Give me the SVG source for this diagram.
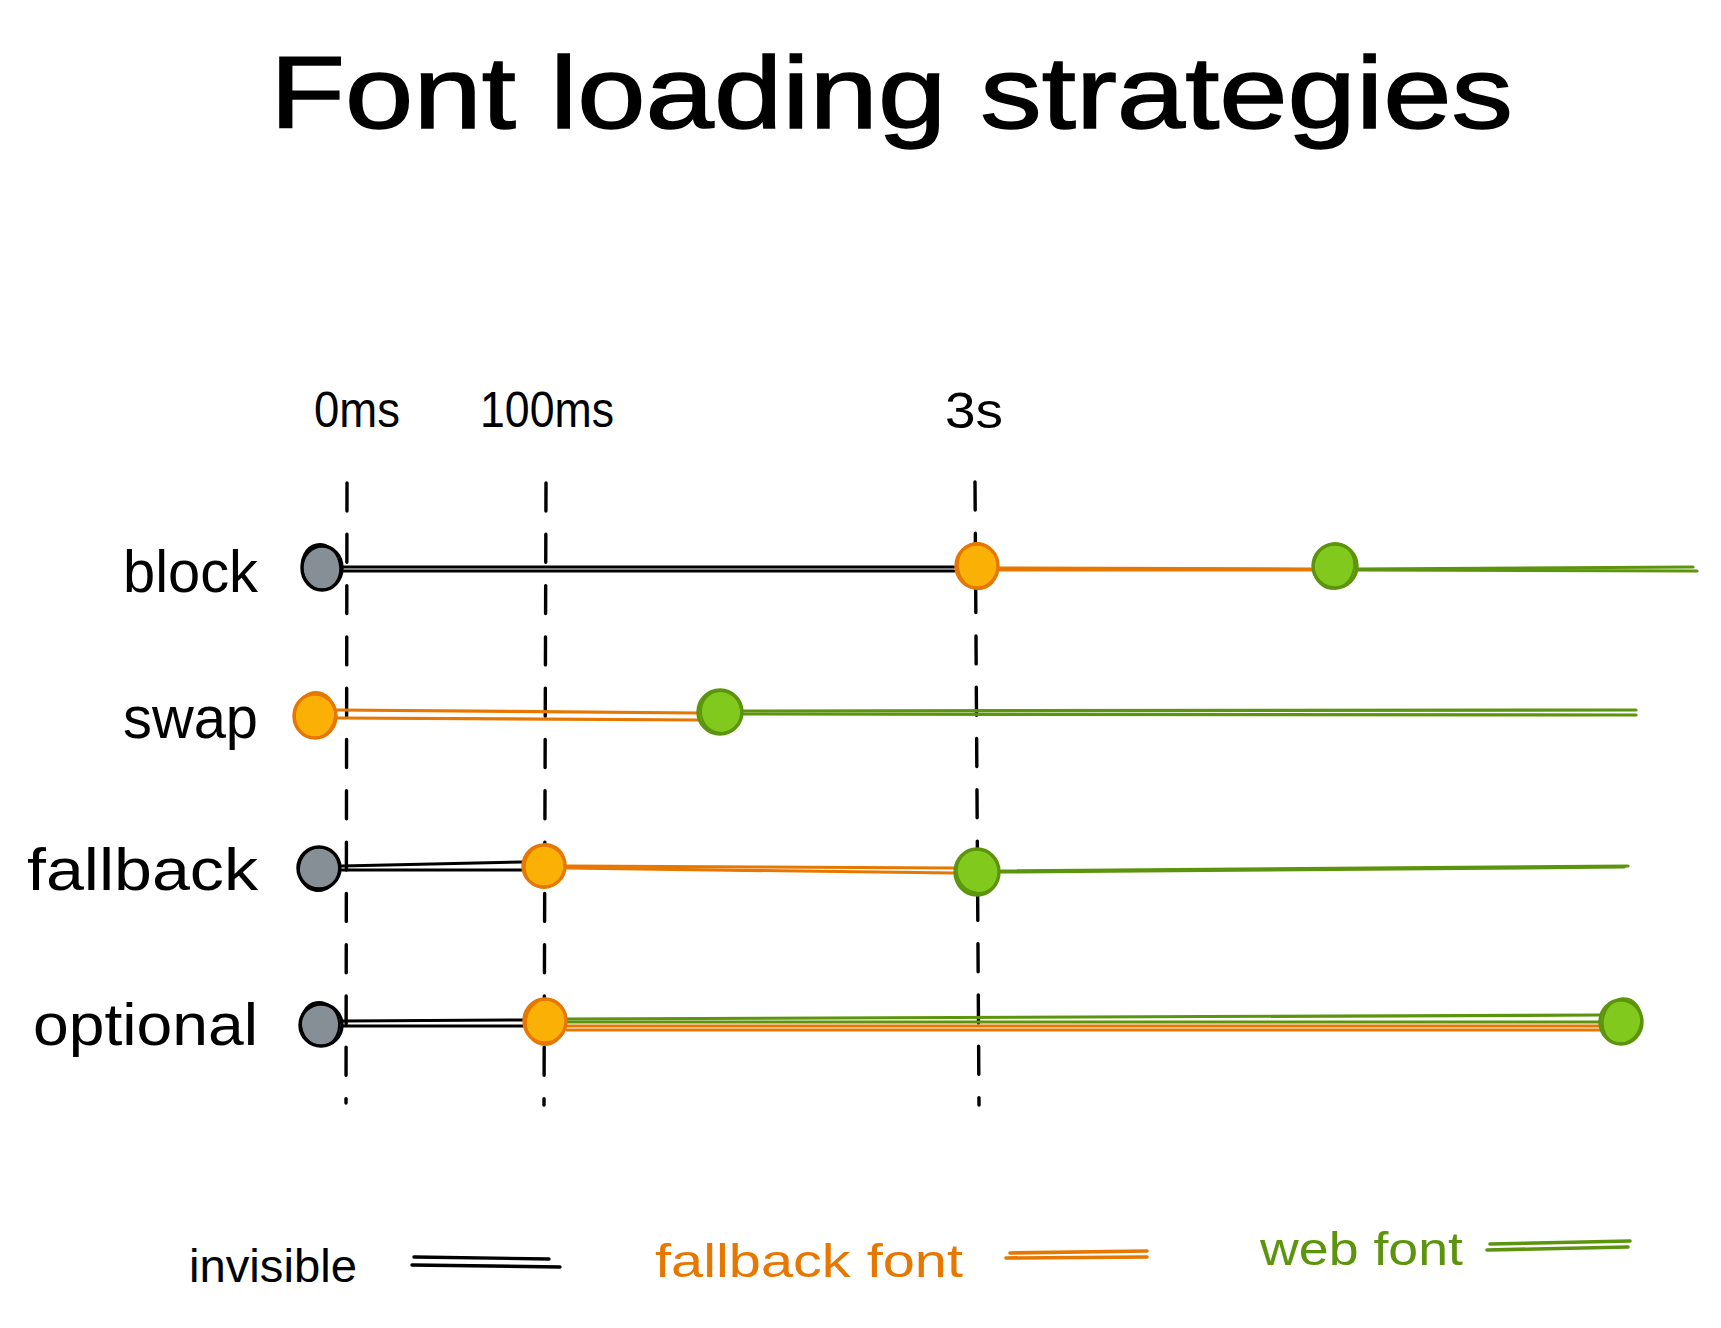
<svg xmlns="http://www.w3.org/2000/svg" width="1721" height="1328" viewBox="0 0 1721 1328">
<style>
text{font-family:"Liberation Sans",Arial,sans-serif;}
.title{font-size:102px;fill:#000;stroke:#000;stroke-width:1.5;}
.tick{font-size:50px;fill:#000;}
.row{font-size:60px;fill:#000;text-anchor:start;}
.leg{font-size:46px;}
.dash{stroke:#000;stroke-width:3.4;stroke-dasharray:28 23.3;stroke-linecap:round;fill:none;}
.k{stroke:#000;stroke-width:3;fill:none;stroke-linecap:round;}
.o{stroke:#e67700;stroke-width:3.2;fill:none;stroke-linecap:round;}
.g{stroke:#5c940d;stroke-width:3.2;fill:none;stroke-linecap:round;}
.nk{fill:#868e96;stroke:#000;stroke-width:3.4;}
.no{fill:#fab005;stroke:#e67700;stroke-width:3.4;}
.ng{fill:#82c91e;stroke:#5c940d;stroke-width:3.4;}
.sk{fill:none;stroke:#000;stroke-width:2;}
.so{fill:none;stroke:#e67700;stroke-width:2;}
.sg{fill:none;stroke:#5c940d;stroke-width:2;}
</style>
<rect width="1721" height="1328" fill="#fff"/>
<g id="title"><text class="title" x="270" y="128" textLength="1243" lengthAdjust="spacingAndGlyphs">Font loading strategies</text></g>
<g id="axis-labels">
<text class="tick" x="314" y="427" textLength="86" lengthAdjust="spacingAndGlyphs">0ms</text>
<text class="tick" x="480" y="427" textLength="134" lengthAdjust="spacingAndGlyphs">100ms</text>
<text class="tick" x="945" y="428" textLength="58" lengthAdjust="spacingAndGlyphs">3s</text>
</g>
<g id="row-labels">
<text class="row" x="123" y="592" textLength="135" lengthAdjust="spacingAndGlyphs">block</text>
<text class="row" x="123" y="738" textLength="135" lengthAdjust="spacingAndGlyphs">swap</text>
<text class="row" x="27" y="890" textLength="231" lengthAdjust="spacingAndGlyphs">fallback</text>
<text class="row" x="33" y="1045" textLength="225" lengthAdjust="spacingAndGlyphs">optional</text>
</g>
<g id="timeline-markers">
<path class="dash" d="M347,483 L346,1103"/>
<path class="dash" d="M546,483 L544,1105"/>
<path class="dash" d="M975,482 L979,1105"/>
</g>
<g id="connectors">
<path class="k" d="M341,567 L954,567"/><path class="k" d="M341,571 L954,571"/>
<path class="o" d="M999,568 L1312,569"/><path class="o" d="M999,570 L1312,570"/>
<path class="g" d="M1357,569 L1693,567"/><path class="g" d="M1357,570 L1697,571"/>
<path class="o" d="M337,710 L698,713"/><path class="o" d="M337,718 L698,720"/>
<path class="g" d="M743,711 L1636,710"/><path class="g" d="M743,714 L1636,715"/>
<path class="k" d="M342,866 L522,862"/><path class="k" d="M342,870 L522,870"/>
<path class="o" d="M567,866 L954,868"/><path class="o" d="M567,868 L954,873"/>
<path class="g" d="M1001,871 L1628,866"/><path class="g" d="M1001,872 L1624,867"/>
<path class="k" d="M343,1021 L523,1020"/><path class="k" d="M343,1026 L523,1026"/>
<path class="g" d="M567,1019 L1600,1015"/><path class="g" d="M567,1022 L1600,1022"/>
<path class="o" d="M567,1026 L1600,1026"/><path class="o" d="M567,1030 L1600,1030"/>
</g>
<g id="node-block-start"><ellipse class="nk" cx="322" cy="568" rx="20" ry="22"/><ellipse class="sk" cx="321" cy="567" rx="19" ry="23" transform="rotate(-12 321 567)"/></g>
<g id="node-block-fallback"><ellipse class="no" cx="977" cy="566" rx="21" ry="22"/><ellipse class="so" cx="978" cy="566" rx="20" ry="23" transform="rotate(-10 978 566)"/></g>
<g id="node-block-web"><ellipse class="ng" cx="1335" cy="566" rx="22" ry="22"/><ellipse class="sg" cx="1334" cy="566" rx="20" ry="23" transform="rotate(15 1334 566)"/></g>
<g id="node-swap-fallback"><ellipse class="no" cx="315" cy="716" rx="21" ry="22"/><ellipse class="so" cx="315" cy="715" rx="20" ry="23" transform="rotate(10 315 715)"/></g>
<g id="node-swap-web"><ellipse class="ng" cx="720" cy="712" rx="22" ry="22"/><ellipse class="sg" cx="721" cy="712" rx="20" ry="21" transform="rotate(-15 721 712)"/></g>
<g id="node-fallback-start"><ellipse class="nk" cx="319" cy="868" rx="21" ry="21"/><ellipse class="sk" cx="319" cy="869" rx="20" ry="22" transform="rotate(10 319 869)"/></g>
<g id="node-fallback-fallback"><ellipse class="no" cx="544" cy="866" rx="21" ry="21"/><ellipse class="so" cx="545" cy="866" rx="20" ry="22" transform="rotate(20 545 866)"/></g>
<g id="node-fallback-web"><ellipse class="ng" cx="977" cy="872" rx="22" ry="23"/><ellipse class="sg" cx="978" cy="871" rx="21" ry="22" transform="rotate(-20 978 871)"/></g>
<g id="node-optional-start"><ellipse class="nk" cx="321" cy="1025" rx="21" ry="21"/><ellipse class="sk" cx="320" cy="1024" rx="19" ry="22" transform="rotate(-10 320 1024)"/></g>
<g id="node-optional-fallback"><ellipse class="no" cx="545" cy="1021" rx="21" ry="22"/><ellipse class="so" cx="546" cy="1022" rx="20" ry="23" transform="rotate(12 546 1022)"/></g>
<g id="node-optional-web"><ellipse class="ng" cx="1621" cy="1022" rx="21" ry="22"/><ellipse class="sg" cx="1622" cy="1021" rx="19" ry="23" transform="rotate(15 1622 1021)"/></g>
<g id="legend">
<text class="leg" x="189" y="1282" fill="#000" textLength="168" lengthAdjust="spacingAndGlyphs">invisible</text>
<path class="k" d="M414,1257 L549,1259" style="stroke-width:3.4"/><path class="k" d="M412,1265 L560,1267" style="stroke-width:3.4"/>
<text class="leg" x="655" y="1277" fill="#e67700" textLength="308" lengthAdjust="spacingAndGlyphs">fallback font</text>
<path class="o" d="M1010,1253 L1147,1251" style="stroke-width:3.6"/><path class="o" d="M1006,1258 L1147,1257" style="stroke-width:3.6"/>
<text class="leg" x="1260" y="1265" fill="#5c940d" textLength="203" lengthAdjust="spacingAndGlyphs">web font</text>
<path class="g" d="M1490,1244 L1630,1241" style="stroke-width:3.6"/><path class="g" d="M1487,1250 L1628,1247" style="stroke-width:3.6"/>
</g>
</svg>
